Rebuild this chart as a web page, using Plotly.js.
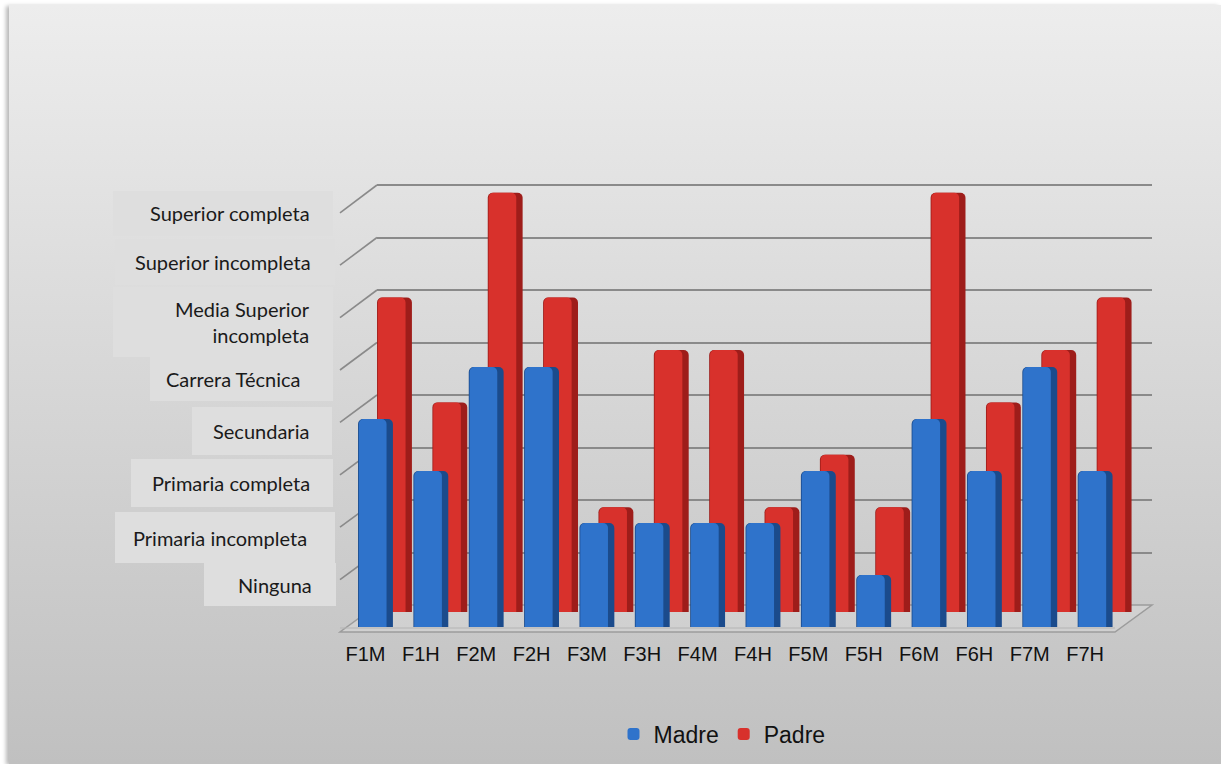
<!DOCTYPE html>
<html>
<head>
<meta charset="utf-8">
<script src="https://cdn.plot.ly/plotly-3.0.1.min.js"></script>
<style>
  html, body { margin:0; padding:0; width:1221px; height:764px; overflow:hidden; background:#ffffff; }
  #card { position:absolute; left:9px; top:5px; width:1212px; height:759px;
          background:linear-gradient(to bottom, #ededed 0%, #c0c0c0 100%);
          box-shadow:-3px 1px 4px rgba(0,0,0,0.28); }
  #chart { position:absolute; left:0; top:0; width:1221px; height:764px; }
</style>
</head>
<body>
<div id="card"></div>
<div id="chart"></div>
<script>
// ---------- data ----------
const categories = ['F1M','F1H','F2M','F2H','F3M','F3H','F4M','F4H','F5M','F5H','F6M','F6H','F7M','F7H'];
const madre = [4,3,5,5,2,2,2,2,3,1,4,3,5,3];
const padre = [6,4,8,6,2,5,5,2,3,2,8,4,5,6];
const levelValues = [1,2,3,4,5,6,7,8];
const levelLabels = ['Ninguna','Primaria incompleta','Primaria completa','Secundaria',
                     'Carrera Técnica','Media Superior<br>incompleta','Superior incompleta','Superior completa'];

// ---------- geometry (pixels) ----------
const W = 1221, H = 764;
const X = p => p / W, Y = p => 1 - p / H;
const TOP = 8.5;
const wall = {left:377, right:1152, zero:605, step:52.5};
const back = {left:366.8, right:1141.8, zero:612, step:52.4};
const front = {left:347.8, right:1122.8, zero:627, step:52};
const wallY = v => wall.zero - v * wall.step;   // back-wall pixel of a level
const frontY = v => front.zero + 5 - v * 52.4;  // front edge pixel of a level

function dom(f) {
  return {
    x: [X(f.left), X(f.right)],
    y: [Y(f.zero), Y(f.zero - TOP * f.step)]
  };
}
const dWall = dom(wall), dBack = dom(back), dFront = dom(front);

// label boxes (style): [left, right, top, bottom] in px, and text right edge
const boxes = [[204,336,563,606],[115,335,512,563],[131,333,459,507],[192,332,407,455],
               [150,333,357,401],[113,333,287,357],[115,335,239,285],[113,333,191,236]];
const textRight = [314,309,312,311,303,312,313,312];

// ---------- traces ----------
const BW = 0.63, IW = 0.50;
const traces = [
  {type:'scatter', x:[categories[0]], y:[null], xaxis:'x', yaxis:'y',
   showlegend:false, hoverinfo:'skip', mode:'markers'},
  // Padre (back row)
  {type:'bar', x:categories, y:padre, xaxis:'x2', yaxis:'y2', name:'Padre',
   width:BW, offset:-BW/2, showlegend:false, hoverinfo:'skip',
   marker:{color:'#9e1d1a', cornerradius:5, line:{width:0}}},
  {type:'bar', x:categories, y:padre, xaxis:'x2', yaxis:'y2', name:'Padre',
   width:IW, offset:-BW/2 + 0.015, legendrank:2,
   marker:{color:'#d8312c', cornerradius:5, line:{width:0}}},
  // Madre (front row)
  {type:'bar', x:categories, y:madre, xaxis:'x3', yaxis:'y3', name:'Madre',
   width:BW, offset:-BW/2, showlegend:false, hoverinfo:'skip',
   marker:{color:'#1b4b8c', cornerradius:5, line:{width:0}}},
  {type:'bar', x:categories, y:madre, xaxis:'x3', yaxis:'y3', name:'Madre',
   width:IW, offset:-BW/2 + 0.015, legendrank:1,
   marker:{color:'#2f73cb', cornerradius:5, line:{width:0}}}
];

// ---------- decoration shapes ----------
const shapes = [];
const fl = 340, fr = 340 + (wall.right - wall.left);
shapes.push({type:'path', xref:'paper', yref:'paper', layer:'below',
  path:`M${X(fl)},${Y(frontY(0))} L${X(fr)},${Y(frontY(0))} L${X(wall.right)},${Y(wallY(0))} L${X(wall.left)},${Y(wallY(0))} Z`,
  fillcolor:'rgba(215,215,215,0.55)', line:{color:'#9c9c9c', width:1.5}});
shapes.push({type:'line', xref:'paper', yref:'paper', layer:'below',
  x0:X(fl), x1:X(fr), y0:Y(frontY(0)-4), y1:Y(frontY(0)-4),
  line:{color:'#b4b4b4', width:1}});
levelValues.forEach(v => {
  shapes.push({type:'line', xref:'paper', yref:'paper', layer:'below',
    x0:X(fl), y0:Y(frontY(v)), x1:X(wall.left), y1:Y(wallY(v)),
    line:{color:'#8a8a8a', width:1.6}});
});
boxes.forEach(b => {
  shapes.push({type:'rect', xref:'paper', yref:'paper', layer:'below',
    x0:X(b[0]), x1:X(b[1]), y0:Y(b[3]), y1:Y(b[2]),
    fillcolor:'#dedede', line:{width:0}});
});

// ---------- level labels ----------
const annotations = levelLabels.map((t, i) => ({
  text:t, xref:'paper', yref:'paper', x:X(textRight[i]), xanchor:'right',
  y:Y((boxes[i][2] + boxes[i][3]) / 2), yanchor:'middle', showarrow:false,
  align:'right', font:{family:'Lato, "Open Sans", sans-serif', size:20, color:'#1a1a1a'}
}));

const hiddenX = {type:'category', showgrid:false, zeroline:false, showline:false,
                 showticklabels:false, ticks:'', fixedrange:true};
const hiddenY = {range:[0, TOP], showgrid:false, zeroline:false, showline:false,
                 showticklabels:false, ticks:'', fixedrange:true};

const layout = {
  width:W, height:H,
  margin:{l:0, r:0, t:0, b:0},
  paper_bgcolor:'rgba(0,0,0,0)', plot_bgcolor:'rgba(0,0,0,0)',
  barmode:'overlay',
  font:{family:'"Liberation Sans", Arial, sans-serif', color:'#111'},
  xaxis:Object.assign({}, hiddenX, {domain:dWall.x, anchor:'y', categoryarray:categories, categoryorder:'array'}),
  yaxis:Object.assign({}, hiddenY, {domain:dWall.y, anchor:'x', showgrid:true, tick0:0, dtick:1,
        gridcolor:'#8a8a8a', gridwidth:2}),
  xaxis2:Object.assign({}, hiddenX, {domain:dBack.x, anchor:'y2', categoryarray:categories, categoryorder:'array'}),
  yaxis2:Object.assign({}, hiddenY, {domain:dBack.y, anchor:'x2'}),
  xaxis3:Object.assign({}, hiddenX, {domain:dFront.x, anchor:'y3', categoryarray:categories, categoryorder:'array',
        showticklabels:true, tickfont:{size:20, color:'#111'}, ticklabelshift:-10, ticklabelstandoff:13}),
  yaxis3:Object.assign({}, hiddenY, {domain:dFront.y, anchor:'x3'}),
  showlegend:true,
  legend:{orientation:'h', x:X(722), xanchor:'center', y:Y(734), yanchor:'middle',
          font:{size:23, color:'#111'}, bgcolor:'rgba(0,0,0,0)', itemclick:false, itemdoubleclick:false,
          itemwidth:30, tracegroupgap:0},
  shapes:shapes,
  annotations:annotations
};

Plotly.newPlot('chart', traces, layout, {displayModeBar:false, staticPlot:true});
</script>
</body>
</html>
